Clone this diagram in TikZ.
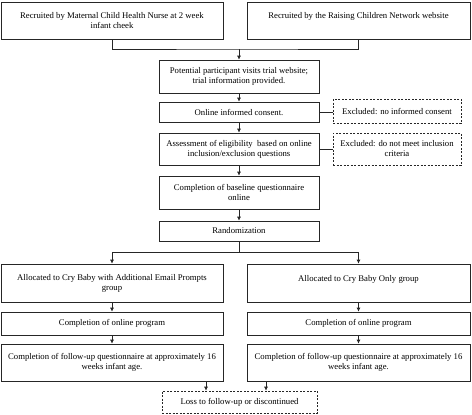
\documentclass[tikz,border=0pt]{standalone}
\usepackage{fontspec}
\setmainfont{Liberation Serif}
\usetikzlibrary{arrows.meta,calc}
\begin{document}
\begin{tikzpicture}[x=1pt,y=-1pt,
  box/.style={draw=black!85, line width=0.7pt, rectangle, align=center, inner sep=1pt,
    font=\fontsize{8.7}{10}\selectfont},
  dbox/.style={box, dashed, dash pattern=on 2pt off 1.5pt},
  conn/.style={draw=black!85, line width=0.7pt},
  arr/.style={conn, -{Latex[length=4pt,width=4pt]}}]
\useasboundingbox (0,0) rectangle (472,415);
\node[box, minimum width=222, minimum height=37] (A) at (112,20.5) {Recruited by Maternal Child Health Nurse at 2 week\\infant cheek};
\node[box, minimum width=223, minimum height=37] (B) at (358.5,20.5) {Recruited by the Raising Children Network website\\\mbox{}};
\node[box, minimum width=160, minimum height=33] (C) at (239,76.5) {Potential participant visits trial website;\\trial information provided.};
\node[box, minimum width=160, minimum height=20] (D) at (239,112) {Online informed consent.};
\node[dbox, minimum width=128, minimum height=24] (E1) at (397,111) {Excluded: no informed consent};
\node[box, minimum width=160, minimum height=32] (F) at (239,149) {Assessment of eligibility\ \ based on online\\inclusion/exclusion questions};
\node[dbox, minimum width=128, minimum height=32] (E2) at (397,149) {Excluded: do not meet inclusion\\criteria};
\node[box, minimum width=160, minimum height=33] (G) at (239,192.5) {Completion of baseline questionnaire\\online};
\node[box, minimum width=160, minimum height=20] (H) at (239,231) {Randomization};
\node[box, minimum width=222, minimum height=38] (I) at (112,283) {Allocated to Cry Baby with Additional Email Prompts\\group};
\node[box, minimum width=223, minimum height=38] (J) at (358.5,283) {Allocated to Cry Baby Only group\\\mbox{}};
\node[box, minimum width=222, minimum height=23] (K1) at (112,323.5) {Completion of online program};
\node[box, minimum width=223, minimum height=23] (K2) at (358.5,323.5) {Completion of online program};
\node[box, minimum width=222, minimum height=37] (M1) at (112,362.5) {Completion of follow-up questionnaire at approximately 16\\weeks infant age.};
\node[box, minimum width=223, minimum height=37] (M2) at (358.5,362.5) {Completion of follow-up questionnaire at approximately 16\\weeks infant age.};
\node[dbox, minimum width=155, minimum height=22] (L) at (239.5,402) {Loss to follow-up or discontinued};
\coordinate (j1) at (239,49);
\coordinate (j2) at (239,252);
\coordinate (ll) at ($(L.north)+(-33.5,0)$);
\coordinate (lr) at ($(L.north)+(26.5,0)$);
\draw[conn] (A.south) |- (j1) -| (B.south);
\draw[arr] (j1) -- (C.north);
\draw[arr] (C) -- (D);
\draw[arr] (D) -- (F);
\draw[arr] (F) -- (G);
\draw[arr] (G) -- (H);
\draw[conn] (D.east) -- (E1.west |- D.east);
\draw[conn] (F.east) -- (E2.west);
\draw[conn] (H.south) -- (j2);
\draw[arr] (j2) -| (I.north);
\draw[arr] (j2) -| (J.north);
\draw[arr] (I) -- (K1);
\draw[arr] (K1) -- (M1);
\draw[arr] (J) -- (K2);
\draw[arr] (K2) -- (M2);
\draw[arr] (ll |- M1.south) -- (ll);
\draw[arr] (lr |- M2.south) -- (lr);
\end{tikzpicture}
\end{document}
